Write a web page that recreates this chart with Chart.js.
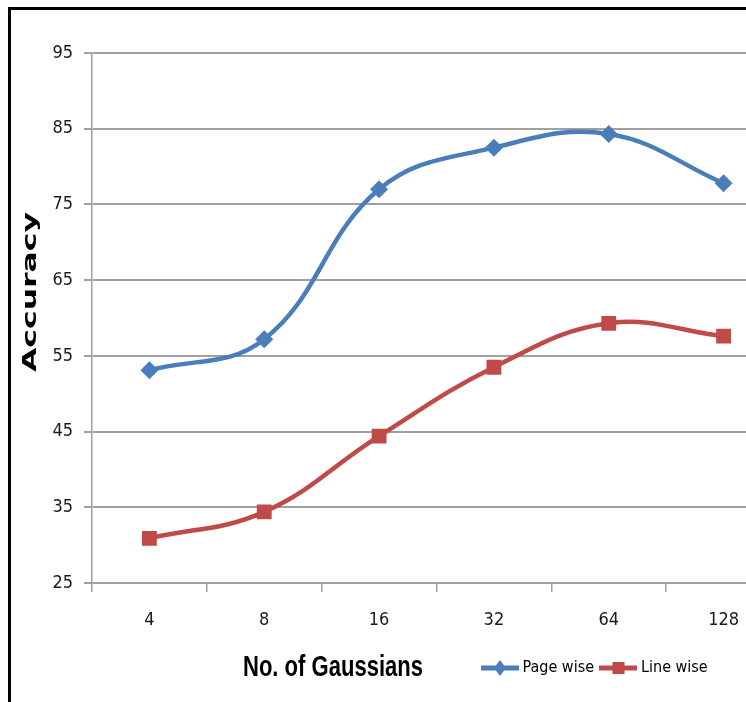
<!DOCTYPE html>
<html>
<head>
<meta charset="utf-8">
<script src="https://cdn.jsdelivr.net/npm/chart.js@4.4.1/dist/chart.umd.min.js"></script>
<style>
  html, body { margin: 0; padding: 0; background: #fff; overflow: hidden; }
  body { width: 746px; height: 702px; position: relative; }
  #frame {
    position: absolute; left: 8px; top: 7px;
    width: 800px; height: 700px;
    border-left: 3px solid #000; border-top: 3px solid #000;
  }
  #chart { position: absolute; left: 0; top: 0; }
</style>
</head>
<body>
<div id="frame"><canvas id="chart" width="800" height="692"></canvas></div>
<script>
/* Accuracy vs No. of Gaussians — two smoothed line series */
const gaussians = ["4", "8", "16", "32", "64", "128"];
const pageWise = [53.1, 57.2, 77.0, 82.5, 84.3, 77.8];
const lineWise = [30.9, 34.4, 44.4, 53.5, 59.3, 57.6];
const yTicks = [25, 35, 45, 55, 65, 75, 85, 95];

const BLUE = "#4A7EBB";
const RED = "#BE4B48";
const GRID = "#a0a0a0";
const NARROW = "'Liberation Sans Narrow', 'DejaVu Sans Condensed', 'Liberation Sans', sans-serif";

// legend marker: short line with the series marker on top, like Excel
function legendMark(color, shape) {
  const c = document.createElement("canvas");
  c.width = 38; c.height = 18;
  const g = c.getContext("2d");
  g.strokeStyle = color; g.lineWidth = 5;
  g.beginPath(); g.moveTo(0, 9); g.lineTo(38, 9); g.stroke();
  g.fillStyle = color;
  g.beginPath();
  if (shape === "diamond") {
    g.moveTo(19, 1); g.lineTo(25, 9); g.lineTo(19, 17); g.lineTo(13, 9); g.closePath();
  } else {
    g.rect(13, 3, 12, 12);
  }
  g.fill();
  return c;
}
const legendMarks = [legendMark(BLUE, "diamond"), legendMark(RED, "square")];

// x title sits left of the legend on the same row; y title is off-centre
const bottomRow = {
  id: "bottomRow",
  afterLayout(chart) {
    const lg = chart.legend;
    lg.left = 464.5; lg.right = 800;
    lg.top = 640; lg.bottom = 692;
    lg.width = lg.right - lg.left; lg.height = lg.bottom - lg.top;
  },
  afterDraw(chart) {
    const ctx = chart.ctx;
    ctx.save();
    ctx.fillStyle = "#000";
    ctx.textAlign = "center";
    ctx.textBaseline = "middle";
    ctx.font = "bold 29px 'Liberation Sans', sans-serif";
    const xt = "No. of Gaussians";
    ctx.translate(322, 658);
    ctx.scale(180 / ctx.measureText(xt).width, 1);
    ctx.fillText(xt, 0, 0);
    ctx.restore();

    ctx.save();
    ctx.fillStyle = "#000";
    ctx.textAlign = "center";
    ctx.textBaseline = "middle";
    ctx.font = "bold 19px 'DejaVu Sans', sans-serif";
    const yt = "Accuracy";
    ctx.translate(20, 282);
    ctx.rotate(-Math.PI / 2);
    ctx.scale(160 / ctx.measureText(yt).width, 1);
    ctx.fillText(yt, 0, 0);
    ctx.restore();
  }
};

Chart.defaults.font.family = NARROW;
Chart.defaults.color = "#1a1a1a";

new Chart(document.getElementById("chart"), {
  type: "line",
  data: {
    labels: gaussians,
    datasets: [
      {
        label: "Page wise",
        data: pageWise,
        borderColor: BLUE,
        backgroundColor: BLUE,
        borderWidth: 4.5,
        tension: 0.4,
        pointStyle: "rectRot",
        pointRadius: 9,
        pointBorderWidth: 0,
      },
      {
        label: "Line wise",
        data: lineWise,
        borderColor: RED,
        backgroundColor: RED,
        borderWidth: 4.5,
        tension: 0.4,
        pointStyle: "rect",
        pointRadius: 10.5,
        pointBorderWidth: 0,
      },
    ],
  },
  options: {
    responsive: false,
    animation: false,
    events: [],
    layout: { padding: { top: 43, right: 30, left: 0, bottom: 0 } },
    scales: {
      x: {
        offset: true,
        grid: { offset: true, drawOnChartArea: false, color: GRID, lineWidth: 1.5, tickLength: 9 },
        border: { display: true, color: GRID, width: 2 },
        ticks: { font: { size: 18 }, padding: 18, maxRotation: 0 },
        afterFit: (s) => { s.height = 119 - (s.chart.legend ? s.chart.legend.height : 0); },
      },
      y: {
        min: yTicks[0],
        max: yTicks[yTicks.length - 1],
        afterBuildTicks: (s) => { s.ticks = yTicks.map((v) => ({ value: v })); },
        grid: { color: GRID, lineWidth: 2, tickLength: 8 },
        border: { display: true, color: GRID, width: 1.5 },
        ticks: { font: { size: 18 }, padding: 11 },
        afterFit: (s) => { s.width = 81; },
      },
    },
    plugins: {
      tooltip: { enabled: false },
      legend: {
        position: "bottom",
        align: "start",
        labels: {
          usePointStyle: true,
          pointStyleWidth: 29,
          padding: 10,
          font: { size: 16 },
          color: "#000",
          generateLabels: (chart) =>
            Chart.defaults.plugins.legend.labels.generateLabels(chart).map((item, i) => {
              item.pointStyle = legendMarks[i];
              return item;
            }),
        },
      },
    },
  },
  plugins: [bottomRow],
});
</script>
</body>
</html>
